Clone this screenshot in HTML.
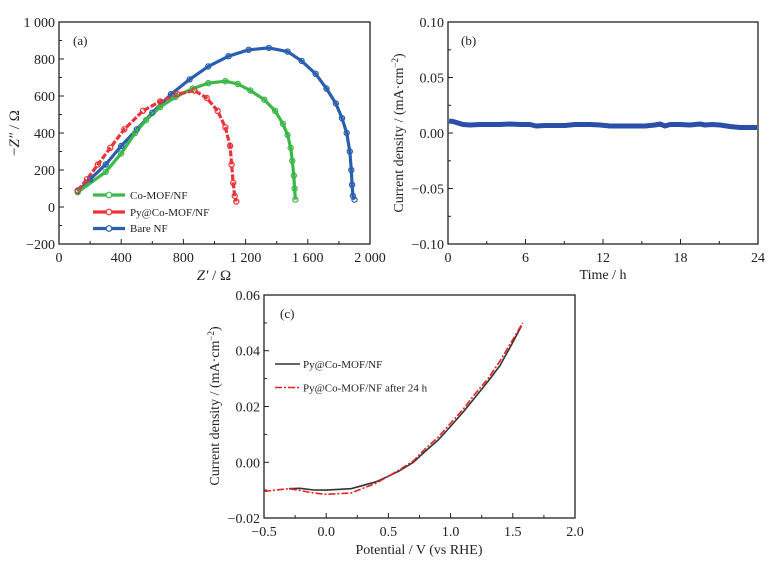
<!DOCTYPE html>
<html><head><meta charset="utf-8"><style>
body{margin:0;background:#fff}
svg{display:block}
text{font-family:"Liberation Serif",serif;fill:#222}
</style></head><body>
<svg width="778" height="564" viewBox="0 0 778 564" xmlns="http://www.w3.org/2000/svg">
<!-- Panel a -->
<g>
<rect x="59" y="22" width="311" height="222" fill="none" stroke="#222" stroke-width="1.3"/>
<g stroke="#222" stroke-width="1">
<line x1="59" y1="22" x2="64" y2="22"/><line x1="59" y1="59" x2="64" y2="59"/><line x1="59" y1="96" x2="64" y2="96"/><line x1="59" y1="133" x2="64" y2="133"/><line x1="59" y1="170" x2="64" y2="170"/><line x1="59" y1="207" x2="64" y2="207"/>
<line x1="59" y1="40.5" x2="62" y2="40.5"/><line x1="59" y1="77.5" x2="62" y2="77.5"/><line x1="59" y1="114.5" x2="62" y2="114.5"/><line x1="59" y1="151.5" x2="62" y2="151.5"/><line x1="59" y1="188.5" x2="62" y2="188.5"/><line x1="59" y1="225.5" x2="62" y2="225.5"/>
<line x1="121.2" y1="244" x2="121.2" y2="239"/><line x1="183.4" y1="244" x2="183.4" y2="239"/><line x1="245.6" y1="244" x2="245.6" y2="239"/><line x1="307.8" y1="244" x2="307.8" y2="239"/>
<line x1="90.1" y1="244" x2="90.1" y2="241"/><line x1="152.3" y1="244" x2="152.3" y2="241"/><line x1="214.5" y1="244" x2="214.5" y2="241"/><line x1="276.7" y1="244" x2="276.7" y2="241"/><line x1="338.9" y1="244" x2="338.9" y2="241"/>
</g>
<g font-size="14" text-anchor="end">
<text x="55" y="27">1 000</text><text x="55" y="64">800</text><text x="55" y="101">600</text><text x="55" y="138">400</text><text x="55" y="175">200</text><text x="55" y="212">0</text><text x="55" y="249">−200</text>
</g>
<g font-size="14" text-anchor="middle">
<text x="59" y="262">0</text><text x="121.2" y="262">400</text><text x="183.4" y="262">800</text><text x="245.6" y="262">1 200</text><text x="307.8" y="262">1 600</text><text x="370" y="262">2 000</text>
</g>
<text x="214" y="280" font-size="15" text-anchor="middle"><tspan font-style="italic">Z′</tspan> / Ω</text>
<text transform="translate(19,133) rotate(-90)" font-size="15" text-anchor="middle">−<tspan font-style="italic">Z″</tspan> / Ω</text>
<text x="73" y="45" font-size="13">(a)</text>
<polyline fill="none" stroke="#2a5fb0" stroke-width="3.2" stroke-linejoin="round" points="77.7,191.3 90.1,179.3 105.7,164.5 121.2,146 136.8,129.3 152.3,112.7 171,94.2 189.6,79.4 208.3,66.4 228.5,56.2 248.7,49.8 268.9,47.9 287.6,51.6 301.6,60.9 315.6,73.8 326.5,88.6 335.8,103.4 342,118.2 346.7,133 349.8,151.5 351.3,170 352.1,184.8 352.9,195.9 354.5,199.6"/>
<polyline fill="none" stroke="#3cb84a" stroke-width="3.2" stroke-linejoin="round" points="77.7,192.2 105.7,171.9 121.2,153.4 135.2,133 146.1,120.1 160.1,107.1 175.6,96.9 192.7,88.6 208.3,83.1 225.4,81.2 237.8,84 250.3,90.5 264.3,99.7 275.1,110.8 282.9,123.8 287.6,134.9 290.7,147.8 292.3,160.8 293.8,175.6 294.6,188.5 295.4,199.6"/>
<polyline fill="none" stroke="#e8343a" stroke-width="3.2" stroke-linejoin="round" stroke-dasharray="6 2" points="77.7,190.4 87,179.3 97.9,164.5 110.3,147.8 124.3,129.3 143,110.8 160.1,101.5 177.2,94.2 194.3,90.5 206.7,97.9 217.6,110.8 225.4,127.5 230.1,145.9 231.6,164.5 233.2,183 234.7,195.9 236.3,201.5"/>
<g fill="none" stroke-width="1.2">
<g stroke="#2a5fb0"><circle cx="77.7" cy="191.3" r="2.6"/><circle cx="90.1" cy="179.3" r="2.6"/><circle cx="105.7" cy="164.5" r="2.6"/><circle cx="121.2" cy="146" r="2.6"/><circle cx="136.8" cy="129.3" r="2.6"/><circle cx="152.3" cy="112.7" r="2.6"/><circle cx="171" cy="94.2" r="2.6"/><circle cx="189.6" cy="79.4" r="2.6"/><circle cx="208.3" cy="66.4" r="2.6"/><circle cx="228.5" cy="56.2" r="2.6"/><circle cx="248.7" cy="49.8" r="2.6"/><circle cx="268.9" cy="47.9" r="2.6"/><circle cx="287.6" cy="51.6" r="2.6"/><circle cx="301.6" cy="60.9" r="2.6"/><circle cx="315.6" cy="73.8" r="2.6"/><circle cx="326.5" cy="88.6" r="2.6"/><circle cx="335.8" cy="103.4" r="2.6"/><circle cx="342" cy="118.2" r="2.6"/><circle cx="346.7" cy="133" r="2.6"/><circle cx="349.8" cy="151.5" r="2.6"/><circle cx="351.3" cy="170" r="2.6"/><circle cx="352.1" cy="184.8" r="2.6"/><circle cx="352.9" cy="195.9" r="2.6"/><circle cx="354.5" cy="199.6" r="2.6"/></g>
<g stroke="#3cb84a"><circle cx="77.7" cy="192.2" r="2.6"/><circle cx="105.7" cy="171.9" r="2.6"/><circle cx="121.2" cy="153.4" r="2.6"/><circle cx="135.2" cy="133" r="2.6"/><circle cx="146.1" cy="120.1" r="2.6"/><circle cx="160.1" cy="107.1" r="2.6"/><circle cx="175.6" cy="96.9" r="2.6"/><circle cx="192.7" cy="88.6" r="2.6"/><circle cx="208.3" cy="83.1" r="2.6"/><circle cx="225.4" cy="81.2" r="2.6"/><circle cx="237.8" cy="84" r="2.6"/><circle cx="250.3" cy="90.5" r="2.6"/><circle cx="264.3" cy="99.7" r="2.6"/><circle cx="275.1" cy="110.8" r="2.6"/><circle cx="282.9" cy="123.8" r="2.6"/><circle cx="287.6" cy="134.9" r="2.6"/><circle cx="290.7" cy="147.8" r="2.6"/><circle cx="292.3" cy="160.8" r="2.6"/><circle cx="293.8" cy="175.6" r="2.6"/><circle cx="294.6" cy="188.5" r="2.6"/><circle cx="295.4" cy="199.6" r="2.6"/></g>
<g stroke="#e8343a"><circle cx="77.7" cy="190.4" r="2.6"/><circle cx="87" cy="179.3" r="2.6"/><circle cx="97.9" cy="164.5" r="2.6"/><circle cx="110.3" cy="147.8" r="2.6"/><circle cx="124.3" cy="129.3" r="2.6"/><circle cx="143" cy="110.8" r="2.6"/><circle cx="160.1" cy="101.5" r="2.6"/><circle cx="177.2" cy="94.2" r="2.6"/><circle cx="194.3" cy="90.5" r="2.6"/><circle cx="206.7" cy="97.9" r="2.6"/><circle cx="217.6" cy="110.8" r="2.6"/><circle cx="225.4" cy="127.5" r="2.6"/><circle cx="230.1" cy="145.9" r="2.6"/><circle cx="231.6" cy="164.5" r="2.6"/><circle cx="233.2" cy="183" r="2.6"/><circle cx="234.7" cy="195.9" r="2.6"/><circle cx="236.3" cy="201.5" r="2.6"/></g>
</g>
<g stroke-width="3.2">
<line x1="93" y1="195" x2="125" y2="195" stroke="#3cb84a"/><circle cx="109" cy="195" r="2.8" fill="#fff" stroke="#3cb84a" stroke-width="1.2"/>
<line x1="93" y1="212" x2="125" y2="212" stroke="#e8343a"/><circle cx="109" cy="212" r="2.8" fill="#fff" stroke="#e8343a" stroke-width="1.2"/>
<line x1="93" y1="228.5" x2="125" y2="228.5" stroke="#2a5fb0"/><circle cx="109" cy="228.5" r="2.8" fill="#fff" stroke="#2a5fb0" stroke-width="1.2"/>
</g>
<g font-size="11"><text x="130" y="199">Co-MOF/NF</text><text x="130" y="216">Py@Co-MOF/NF</text><text x="130" y="232">Bare NF</text></g>
</g>
<!-- Panel b -->
<g>
<rect x="448" y="22" width="310" height="222" fill="none" stroke="#222" stroke-width="1.3"/>
<g stroke="#222" stroke-width="1">
<line x1="448" y1="77.5" x2="453" y2="77.5"/><line x1="448" y1="133" x2="453" y2="133"/><line x1="448" y1="188.5" x2="453" y2="188.5"/>
<line x1="448" y1="49.8" x2="451" y2="49.8"/><line x1="448" y1="105.3" x2="451" y2="105.3"/><line x1="448" y1="160.8" x2="451" y2="160.8"/><line x1="448" y1="216.3" x2="451" y2="216.3"/>
<line x1="525.5" y1="244" x2="525.5" y2="239"/><line x1="603" y1="244" x2="603" y2="239"/><line x1="680.5" y1="244" x2="680.5" y2="239"/>
<line x1="486.8" y1="244" x2="486.8" y2="241"/><line x1="564.3" y1="244" x2="564.3" y2="241"/><line x1="641.8" y1="244" x2="641.8" y2="241"/><line x1="719.3" y1="244" x2="719.3" y2="241"/>
</g>
<g font-size="14" text-anchor="end">
<text x="444" y="27">0.10</text><text x="444" y="82.5">0.05</text><text x="444" y="138">0.00</text><text x="444" y="193.5">−0.05</text><text x="444" y="249">−0.10</text>
</g>
<g font-size="14" text-anchor="middle">
<text x="448" y="262">0</text><text x="525.5" y="262">6</text><text x="603" y="262">12</text><text x="680.5" y="262">18</text><text x="758" y="262">24</text>
</g>
<text x="603" y="279" font-size="14" text-anchor="middle">Time / h</text>
<text transform="translate(403,133) rotate(-90)" font-size="14" text-anchor="middle">Current density / (mA·cm<tspan dy="-5" font-size="9">−2</tspan><tspan dy="5">)</tspan></text>
<text x="461" y="45" font-size="13">(b)</text>
<polyline fill="none" stroke="#2a4fa8" stroke-width="5" stroke-linejoin="round" points="449,121 453,121.5 458,123 463,124.5 470,125 480,124.5 490,124.5 500,124.5 510,124 520,124.5 530,124.5 536,126 545,125.5 555,125.5 565,125.5 575,124.5 590,124.5 600,125 610,126 620,126 635,126 645,126 655,125 660,124 665,126 670,124.5 680,124.5 690,125 700,124 705,125 712,124.5 720,125 730,126.5 740,127.5 750,127.5 757,127.5"/>
</g>
<!-- Panel c -->
<g>
<rect x="264" y="295" width="311" height="223" fill="none" stroke="#222" stroke-width="1.3"/>
<g stroke="#222" stroke-width="1">
<line x1="264" y1="350.7" x2="269" y2="350.7"/><line x1="264" y1="406.5" x2="269" y2="406.5"/><line x1="264" y1="462.3" x2="269" y2="462.3"/>
<line x1="264" y1="322.9" x2="267" y2="322.9"/><line x1="264" y1="378.6" x2="267" y2="378.6"/><line x1="264" y1="434.4" x2="267" y2="434.4"/><line x1="264" y1="490.1" x2="267" y2="490.1"/>
<line x1="326.2" y1="518" x2="326.2" y2="513"/><line x1="388.4" y1="518" x2="388.4" y2="513"/><line x1="450.6" y1="518" x2="450.6" y2="513"/><line x1="512.8" y1="518" x2="512.8" y2="513"/>
<line x1="295.1" y1="518" x2="295.1" y2="515"/><line x1="357.3" y1="518" x2="357.3" y2="515"/><line x1="419.5" y1="518" x2="419.5" y2="515"/><line x1="481.7" y1="518" x2="481.7" y2="515"/><line x1="543.9" y1="518" x2="543.9" y2="515"/>
</g>
<g font-size="14" text-anchor="end">
<text x="260" y="300">0.06</text><text x="260" y="355.7">0.04</text><text x="260" y="411.5">0.02</text><text x="260" y="467.3">0.00</text><text x="260" y="523">−0.02</text>
</g>
<g font-size="14" text-anchor="middle">
<text x="264" y="536">−0.5</text><text x="326.2" y="536">0.0</text><text x="388.4" y="536">0.5</text><text x="450.6" y="536">1.0</text><text x="512.8" y="536">1.5</text><text x="575" y="536">2.0</text>
</g>
<text x="419" y="554" font-size="14" text-anchor="middle">Potential / V (vs RHE)</text>
<text transform="translate(219,406) rotate(-90)" font-size="14" text-anchor="middle">Current density / (mA·cm<tspan dy="-5" font-size="9">−2</tspan><tspan dy="5">)</tspan></text>
<text x="280" y="318" font-size="13">(c)</text>
<polyline fill="none" stroke="#333" stroke-width="1.6" stroke-linejoin="round" points="288.9,488.7 300,488.3 313.8,490 326.2,490.1 351.1,488.7 376,481.8 388.4,476.2 400,470.5 413.3,462.3 425,451.5 438.2,440 450,427 463.1,412.1 475,397.5 488,381.4 500,365.5 512.8,342.4 521.5,325.7"/>
<polyline fill="none" stroke="#e82020" stroke-width="1.6" stroke-dasharray="7 2 2 2" stroke-linejoin="round" points="264,491.5 276,490 288.9,488.7 300,490.5 313.8,493 326.2,494.3 351.1,493 376,483.2 388.4,476.2 400,469.5 413.3,460.9 425,449 438.2,437.2 450,424 463.1,409.3 475,394 488,378.6 500,361 512.8,339.6 522.7,322.9"/>
<line x1="275" y1="364" x2="300" y2="364" stroke="#333" stroke-width="1.6"/>
<line x1="275" y1="387.5" x2="300" y2="387.5" stroke="#e82020" stroke-width="1.6" stroke-dasharray="7 2 2 2"/>
<g font-size="11"><text x="303" y="368">Py@Co-MOF/NF</text><text x="303" y="391.5">Py@Co-MOF/NF after 24 h</text></g>
</g>
</svg>
</body></html>
